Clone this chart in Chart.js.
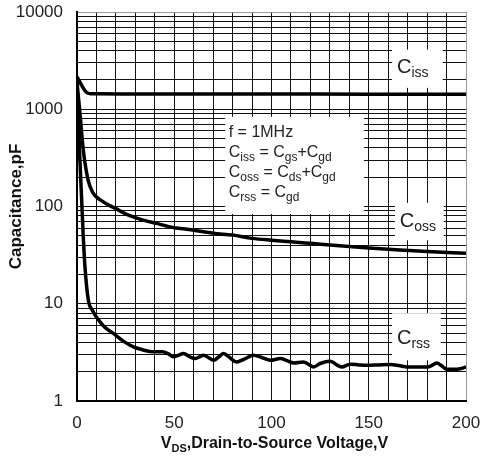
<!DOCTYPE html>
<html>
<head>
<meta charset="utf-8">
<script src="https://cdn.jsdelivr.net/npm/chart.js@4/dist/chart.umd.min.js"></script>
<style>
html,body{margin:0;padding:0;background:#fff;}
canvas{display:block;}
</style>
</head>
<body>
<canvas id="c" width="481" height="457" style="width:481px;height:457px"></canvas>
<script>
// ---- data ----
const cissV = [0, 1.5, 3, 4.5, 5.7, 7, 10, 30, 60, 100, 150, 200];
const cissC = [2150, 1900, 1680, 1520, 1460, 1445, 1440, 1438, 1435, 1432, 1430, 1428];

const cossV = [0, 1.5, 3, 4.1, 5.7, 8, 10, 12, 15, 20, 25, 30, 35, 41, 46, 51, 55, 60, 65, 70, 80, 90, 100, 110, 120, 135, 150, 166, 180, 200];
const cossC = [1900, 918, 420, 281, 187, 140, 125, 117, 107, 95, 84, 77, 71.5, 67, 63, 60, 59, 57, 55, 53, 50.8, 47, 45, 43.4, 41.8, 39.5, 37.5, 35.7, 34.5, 33];

const crssV = [0, 0.5, 1.5, 2.4, 3.2, 4.1, 5.8, 8, 10, 14, 18.7, 24, 29, 34, 39, 44, 47, 49.6, 52, 54.7, 58, 60.7, 63, 65, 67.5, 70.2, 73, 75.3, 78.5, 82, 86, 90.7, 95, 99.3, 104.5, 108, 111.3, 116.5, 121.6, 125, 130, 136, 140.5, 145, 149, 155, 161, 166, 169.7, 175, 180, 183, 185, 187.5, 190, 194, 197, 200];
const crssC = [1700, 1000, 300, 116, 50, 24, 11, 8.5, 7.3, 5.8, 4.95, 4.1, 3.6, 3.35, 3.2, 3.2, 3.05, 2.85, 2.95, 3.08, 2.85, 2.73, 2.85, 2.96, 2.8, 2.62, 2.85, 3.08, 2.8, 2.52, 2.7, 2.96, 2.8, 2.62, 2.73, 2.6, 2.46, 2.52, 2.24, 2.43, 2.56, 2.24, 2.39, 2.35, 2.33, 2.35, 2.37, 2.3, 2.24, 2.24, 2.24, 2.35, 2.46, 2.3, 2.12, 2.12, 2.15, 2.24];

const yTickValues = [1,2,3,4,5,6,7,8,9,10,20,30,40,50,60,70,80,90,100,200,300,400,500,600,700,800,900,1000,2000,3000,4000,5000,6000,7000,8000,9000,10000];
const yTickLabels = ['1','10','100','1000','10000'];
const xTickLabels = ['0','50','100','150','200'];

const xTitleMain = 'V';
const xTitleSub = 'DS';
const xTitleRest = ',Drain-to-Source Voltage,V';
const yTitle = 'Capacitance,pF';

const noteLines = [
  [['f = 1MHz', false]],
  [['C', false], ['iss', true], [' = C', false], ['gs', true], ['+C', false], ['gd', true]],
  [['C', false], ['oss', true], [' = C', false], ['ds', true], ['+C', false], ['gd', true]],
  [['C', false], ['rss', true], [' = C', false], ['gd', true]]
];
const curveLabels = [
  {main: 'C', sub: 'iss'},
  {main: 'C', sub: 'oss'},
  {main: 'C', sub: 'rss'}
];

// ---- helpers ----
const FONT = '"Liberation Sans", Arial, Helvetica, sans-serif';
function pts(xs, ys){ return xs.map((x,i)=>({x:x, y:ys[i]})); }

function drawRich(ctx, parts, x, y, size, subSize, subDrop, color, bold){
  ctx.fillStyle = color;
  ctx.textBaseline = 'alphabetic';
  ctx.textAlign = 'left';
  let cx = x;
  for (const [t, sub] of parts){
    ctx.font = (bold ? 'bold ' : '') + (sub ? subSize : size) + 'px ' + FONT;
    ctx.fillText(t, cx, sub ? y + subDrop : y);
    cx += ctx.measureText(t).width;
  }
  return cx - x;
}
function richWidth(ctx, parts, size, subSize, bold){
  let w = 0;
  for (const [t, sub] of parts){
    ctx.font = (bold ? 'bold ' : '') + (sub ? subSize : size) + 'px ' + FONT;
    w += ctx.measureText(t).width;
  }
  return w;
}

// annotation placement in data coordinates
const boxes = [
  {x0:162, x1:188, y0:4100, y1:1660},   // Ciss label
  {x0:163.5, x1:188.5, y0:109, y1:45},  // Coss label
  {x0:162, x1:187, y0:8.0, y1:2.62},    // Crss label
  {x0:76.2, x1:147.5, y0:836, y1:83.7}  // note
];
const labelPos = [
  {x:164.5, y:2370},
  {x:166, y:62},
  {x:164.5, y:3.9}
];
const notePos = {x:78, y:[520, 324, 201, 125]};

const annot = {
  id: 'annot',
  beforeDatasetsDraw(chart){
    const {ctx, scales:{x, y}} = chart;
    ctx.save();
    ctx.fillStyle = '#fff';
    for (const b of boxes){
      const px0 = x.getPixelForValue(b.x0), px1 = x.getPixelForValue(b.x1);
      const py0 = y.getPixelForValue(b.y0), py1 = y.getPixelForValue(b.y1);
      ctx.fillRect(px0, py0, px1 - px0, py1 - py0);
    }
    ctx.restore();
  },
  afterDatasetsDraw(chart){
    const {ctx, scales:{x, y}} = chart;
    ctx.save();
    curveLabels.forEach((l, i) => {
      const px = x.getPixelForValue(labelPos[i].x), py = y.getPixelForValue(labelPos[i].y);
      drawRich(ctx, [[l.main, false], [l.sub, true]], px, py, 20, 14, 4, '#222', false);
    });
    noteLines.forEach((parts, i) => {
      const px = x.getPixelForValue(notePos.x), py = y.getPixelForValue(notePos.y[i]);
      drawRich(ctx, parts, px, py, 16, 12, 4, '#222', false);
    });
    ctx.restore();
  },
  afterDraw(chart){
    const {ctx, chartArea:a} = chart;
    ctx.save();
    // x title
    const parts = [[xTitleMain, false], [xTitleSub, true], [xTitleRest, false]];
    const w = richWidth(ctx, parts, 16, 11, true);
    const cx = (a.left + a.right) / 2 + 3;
    drawRich(ctx, parts, cx - w/2, 448, 16, 11, 4, '#111', true);
    // y title
    ctx.translate(16, (a.top + a.bottom) / 2);
    ctx.rotate(-Math.PI/2);
    ctx.font = 'bold 17px ' + FONT;
    ctx.fillStyle = '#111';
    ctx.textAlign = 'center';
    ctx.textBaseline = 'middle';
    ctx.fillText(yTitle, 0, 0);
    ctx.restore();
  }
};

function noPad(s){ s.paddingTop = 0; s.paddingBottom = 0; s.paddingLeft = 0; s.paddingRight = 0; }

const lineStyle = {borderColor:'#000', borderWidth:3.5, pointRadius:0, fill:false, cubicInterpolationMode:'monotone'};

new Chart(document.getElementById('c'), {
  type: 'line',
  data: {
    datasets: [
      Object.assign({label:'Ciss', data: pts(cissV, cissC)}, lineStyle),
      Object.assign({label:'Coss', data: pts(cossV, cossC)}, lineStyle),
      Object.assign({label:'Crss', data: pts(crssV, crssC)}, lineStyle)
    ]
  },
  options: {
    responsive: false,
    animation: false,
    devicePixelRatio: 1,
    layout: {padding: {left:0, top:12, right:15, bottom:0}},
    plugins: {legend:{display:false}, tooltip:{enabled:false}},
    scales: {
      x: {
        type: 'linear', min: 0, max: 200,
        ticks: {
          stepSize: 10, autoSkip: false, maxRotation: 0, padding: 12,
          color: '#222', font: {family: FONT, size: 17},
          callback: v => xTickLabels.includes(String(v)) ? String(v) : ''
        },
        grid: {
          drawTicks: false, lineWidth: 1,
          color: c => (c.tick && c.tick.value === 200) ? '#999' : '#111'
        },
        border: {color: '#000', width: 2},
        afterFit: s => { s.height = 56; noPad(s); }
      },
      y: {
        type: 'logarithmic', min: 1, max: 10000,
        afterBuildTicks: s => { s.ticks = yTickValues.map(v => ({value: v})); },
        ticks: {
          autoSkip: false, padding: 14,
          color: '#222', font: {family: FONT, size: 17},
          callback: v => yTickLabels.includes(String(v)) ? String(v) : ''
        },
        grid: {
          drawTicks: false, lineWidth: 1,
          color: c => (c.tick && c.tick.value === 10000) ? '#999' : '#111'
        },
        border: {color: '#000', width: 2},
        afterFit: s => { s.width = 77; noPad(s); }
      }
    }
  },
  plugins: [annot]
});
</script>
</body>
</html>
